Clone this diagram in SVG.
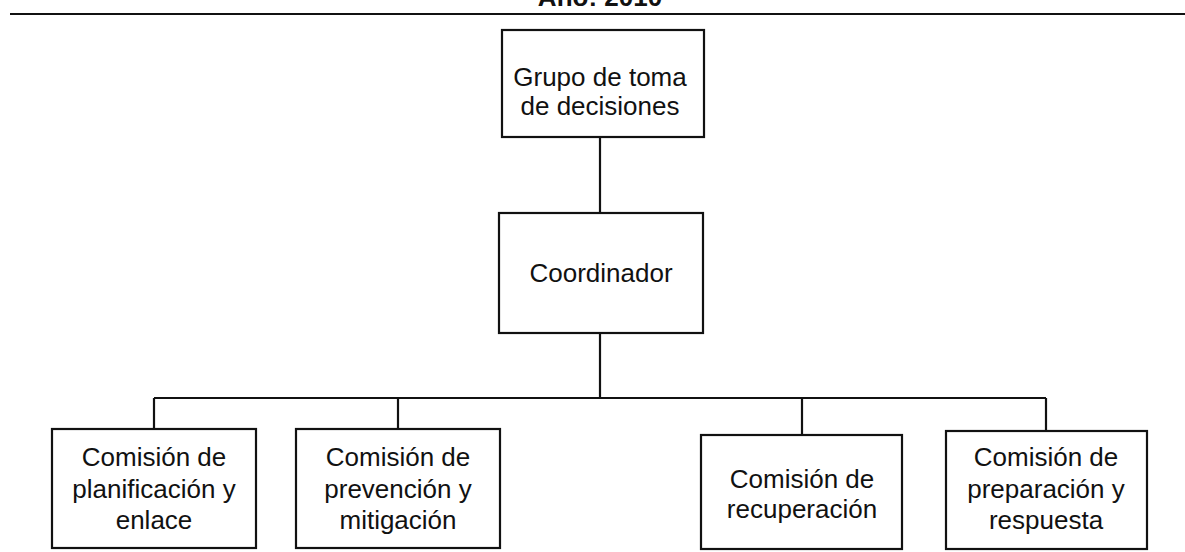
<svg xmlns="http://www.w3.org/2000/svg" width="1185" height="552" viewBox="0 0 1185 552">
<style>
.box{fill:#fff;stroke:#111;stroke-width:2.2}
.ln{fill:none;stroke:#111;stroke-width:2.2}
.t{font-family:"Liberation Sans",Arial,sans-serif;font-size:26px;fill:#111;text-anchor:middle}
.title{font-family:"Liberation Sans",Arial,sans-serif;font-size:26px;font-weight:bold;fill:#111;text-anchor:middle}
</style>
<rect width="1185" height="552" fill="#fff"/>
<text class="title" x="600" y="6">Año: 2010</text>
<line class="ln" x1="10" y1="14" x2="1185" y2="14"/>
<g id="connectors">
<path class="ln" d="M600,137 V213"/>
<path class="ln" d="M600,333 V398"/>
<path class="ln" d="M154,398 H1046"/>
<path class="ln" d="M154,398 V429"/>
<path class="ln" d="M398,398 V429"/>
<path class="ln" d="M802,398 V435"/>
<path class="ln" d="M1046,398 V431"/>
</g>
<g id="n-grupo">
<rect class="box" x="502" y="30" width="202" height="107"/>
<text class="t" x="600" y="86">Grupo de toma</text>
<text class="t" x="600" y="115">de decisiones</text>
</g>
<g id="n-coord">
<rect class="box" x="499" y="213" width="204" height="120"/>
<text class="t" x="601" y="282">Coordinador</text>
</g>
<g id="n-planif">
<rect class="box" x="52" y="429" width="204" height="119"/>
<text class="t" x="154" y="466">Comisión de</text>
<text class="t" x="154" y="498">planificación y</text>
<text class="t" x="154" y="529">enlace</text>
</g>
<g id="n-prev">
<rect class="box" x="296" y="429" width="204" height="119"/>
<text class="t" x="398" y="466">Comisión de</text>
<text class="t" x="398" y="498">prevención y</text>
<text class="t" x="398" y="529">mitigación</text>
</g>
<g id="n-recup">
<rect class="box" x="701" y="435" width="201" height="114"/>
<text class="t" x="802" y="488">Comisión de</text>
<text class="t" x="802" y="518">recuperación</text>
</g>
<g id="n-prep">
<rect class="box" x="946" y="431" width="201" height="118"/>
<text class="t" x="1046" y="466">Comisión de</text>
<text class="t" x="1046" y="498">preparación y</text>
<text class="t" x="1046" y="529">respuesta</text>
</g>
</svg>
